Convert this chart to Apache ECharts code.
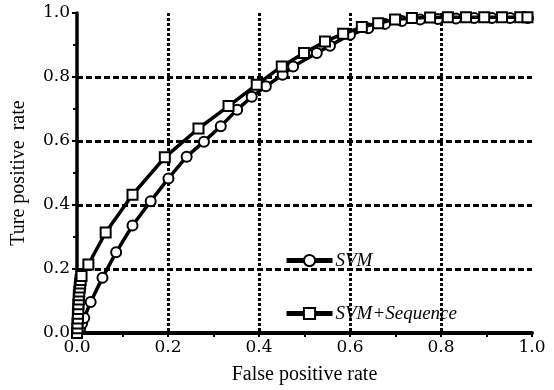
<!DOCTYPE html>
<html>
<head>
<meta charset="utf-8">
<script src="https://cdn.jsdelivr.net/npm/echarts@6/dist/echarts.min.js"></script>
<style>html,body{margin:0;padding:0;background:#fff}#c{width:554px;height:390px}</style>
</head>
<body>
<div id="c"></div>
<script>
const xTickLabels = ['0.0','0.2','0.4','0.6','0.8','1.0'];
const yTickLabels = ['0.0','0.2','0.4','0.6','0.8','1.0'];
const seriesNames = ['SVM', 'SVM+Sequence'];

const svmFpr = [0, 0.003, 0.007, 0.011, 0.016, 0.030, 0.056, 0.086, 0.122, 0.162, 0.201, 0.241, 0.279, 0.316, 0.352, 0.384, 0.415, 0.452, 0.475, 0.527, 0.556, 0.600, 0.640, 0.677, 0.714, 0.754, 0.793, 0.833, 0.873, 0.912, 0.952, 0.991];
const svmTpr = [0, 0.006, 0.015, 0.030, 0.047, 0.097, 0.173, 0.252, 0.336, 0.412, 0.483, 0.551, 0.598, 0.646, 0.698, 0.738, 0.771, 0.807, 0.833, 0.875, 0.898, 0.932, 0.952, 0.966, 0.975, 0.980, 0.981, 0.983, 0.984, 0.984, 0.984, 0.984];

const seqFpr = [0, 0.001, 0.001, 0.002, 0.002, 0.003, 0.003, 0.004, 0.004, 0.005, 0.006, 0.007, 0.008, 0.010, 0.025, 0.063, 0.122, 0.193, 0.267, 0.333, 0.395, 0.450, 0.499, 0.545, 0.585, 0.626, 0.662, 0.699, 0.736, 0.776, 0.815, 0.855, 0.895, 0.934, 0.974, 0.990];
const seqTpr = [0, 0.015, 0.030, 0.045, 0.060, 0.075, 0.090, 0.105, 0.118, 0.130, 0.142, 0.155, 0.166, 0.178, 0.214, 0.314, 0.432, 0.549, 0.639, 0.709, 0.776, 0.833, 0.875, 0.911, 0.935, 0.956, 0.968, 0.980, 0.984, 0.986, 0.987, 0.987, 0.987, 0.987, 0.987, 0.987];

const zip = (a, b) => a.map((v, i) => [v, b[i]]);

const chart = echarts.init(document.getElementById('c'), null, {renderer: 'canvas'});
const serifNum = 'DejaVu Serif';
const serif = 'Liberation Serif';

chart.setOption({
  animation: false,
  backgroundColor: '#fff',
  grid: {left: 77, right: 22, top: 13, bottom: 55, containLabel: false},
  legend: {
    orient: 'vertical',
    left: 279,
    top: 246,
    itemGap: 34,
    itemWidth: 46,
    itemHeight: 14,
    data: seriesNames,
    lineStyle: {width: 5, color: '#000'},
    textStyle: {fontFamily: serif, fontStyle: 'italic', fontSize: 19, color: '#000', padding: [0,0,0,-2]}
  },
  xAxis: {
    type: 'value', min: 0, max: 1, interval: 0.2,
    name: 'False positive rate', nameLocation: 'middle', nameGap: 32,
    nameTextStyle: {fontFamily: serif, fontSize: 20, color: '#000'},
    axisLine: {show: true, lineStyle: {color: '#000', width: 4}},
    axisTick: {show: true, length: 4, lineStyle: {color: '#000', width: 2}},
    minorTick: {show: true, splitNumber: 2, length: 4, lineStyle: {color: '#000', width: 2}},
    axisLabel: {fontFamily: serifNum, fontSize: 17, color: '#000', margin: 6,
      formatter: v => xTickLabels[Math.round(v / 0.2)]},
    splitLine: {show: true, showMinLine: false, showMaxLine: false,
      lineStyle: {color: '#000', width: 3, type: [3, 2]}}
  },
  yAxis: {
    type: 'value', min: 0, max: 1, interval: 0.2,
    name: 'Ture positive  rate', nameLocation: 'middle', nameGap: 48,
    nameTextStyle: {fontFamily: serif, fontSize: 20, color: '#000'},
    axisLine: {show: true, lineStyle: {color: '#000', width: 3.5}},
    axisTick: {show: true, length: 5, lineStyle: {color: '#000', width: 2}},
    minorTick: {show: true, splitNumber: 2, length: 4, lineStyle: {color: '#000', width: 2}},
    axisLabel: {fontFamily: serifNum, fontSize: 17, color: '#000', margin: 7,
      formatter: v => yTickLabels[Math.round(v / 0.2)]},
    splitLine: {show: true, showMinLine: false, showMaxLine: false,
      lineStyle: {color: '#000', width: 3, type: [6, 3]}}
  },
  series: [
    {
      name: seriesNames[0], type: 'line', data: zip(svmFpr, svmTpr),
      symbol: 'circle', symbolSize: 10, showAllSymbol: true,
      lineStyle: {color: '#000', width: 3.5},
      itemStyle: {color: '#fff', borderColor: '#000', borderWidth: 2},
      z: 3
    },
    {
      name: seriesNames[1], type: 'line', data: zip(seqFpr, seqTpr),
      symbol: 'rect', symbolSize: 10, showAllSymbol: true,
      lineStyle: {color: '#000', width: 3.5},
      itemStyle: {color: '#fff', borderColor: '#000', borderWidth: 2},
      z: 4
    }
  ]
});
</script>
</body>
</html>
